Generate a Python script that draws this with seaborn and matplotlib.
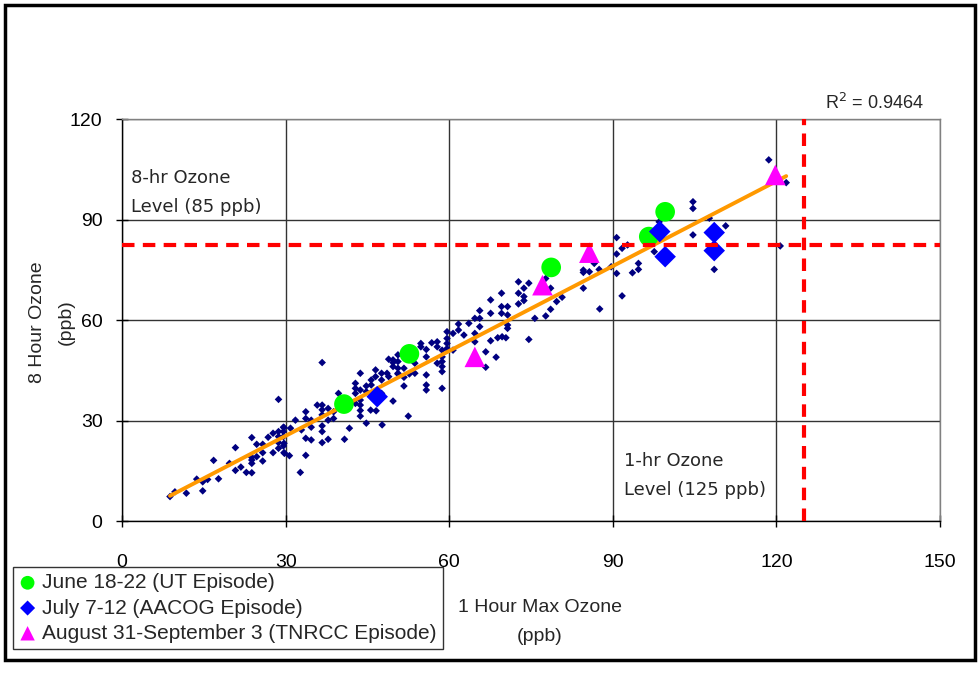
import numpy as np
import pandas as pd
import matplotlib
matplotlib.use("Agg")
import matplotlib.pyplot as plt
from matplotlib.patches import Rectangle
import seaborn as sns

# ---- data ----
dot_x = [8.8, 9.7, 11.8, 13.7, 14.8, 14.8, 15.7, 16.8, 17.7, 19.7, 20.8, 20.8, 21.8, 22.8,
         23.8, 23.8, 23.8, 23.8, 23.8, 24.7, 24.7, 25.8, 25.8, 25.8, 26.8, 27.7, 27.7, 28.7,
         28.7, 28.7, 29.7, 29.7, 29.7, 28.7, 36.7, 29.6, 29.6, 30.9, 29.6, 28.7, 29.6, 31.8,
         32.9, 33.7, 33.7, 33.7, 34.7, 34.7, 34.7, 35.8, 36.7, 36.7, 36.7, 36.7, 36.7, 36.7,
         37.8, 37.8, 37.8, 38.8, 38.8, 39.7, 39.7, 40.8, 41.7, 42.8, 42.8, 42.8, 42.8, 43.7,
         43.7, 43.7, 43.7, 43.7, 43.7, 44.8, 44.8, 44.8, 45.6, 45.7, 45.7, 46.5, 46.5, 46.6,
         47.6, 47.6, 47.6, 47.7, 48.6, 49.7, 49.7, 49.7, 50.6, 32.7, 33.7, 30.7, 29.8, 52.5,
         48.9, 48.9, 49.7, 50.6, 50.6, 50.6, 50.6, 51.7, 51.7, 51.7, 52.7, 53.7, 53.7, 54.8,
         54.8, 55.8, 55.8, 55.8, 55.8, 55.8, 56.8, 57.8, 57.8, 57.8, 58.7, 58.7, 58.7, 58.7,
         58.7, 58.7, 59.6, 59.6, 59.6, 59.6, 60.7, 60.7, 61.7, 61.7, 62.7, 63.6, 64.7, 64.7,
         64.7, 65.6, 65.6, 65.6, 66.7, 66.7, 67.6, 67.6, 67.6, 68.6, 68.9, 69.6, 69.6, 69.6,
         70.7, 70.7, 70.4, 70.7, 70.7, 69.7, 72.7, 72.7, 72.7, 73.7, 73.7, 73.7, 74.6, 74.6,
         75.7, 77.7, 77.7, 78.6, 78.6, 79.7, 80.7, 84.6, 84.6, 84.6, 85.7, 86.6, 87.5, 87.6,
         89.7, 90.7, 90.7, 91.7, 92.7, 90.7, 93.6, 94.7, 94.7, 91.7, 97.6, 98.5, 104.7, 104.7,
         104.7, 107.7, 110.7, 108.6, 118.6, 121.8, 120.7]
dot_y = [7.3, 8.7, 8.3, 12.5, 11.7, 9.0, 12.4, 18.1, 12.6, 17.2, 21.9, 15.1, 16.1, 14.5,
         14.4, 17.2, 18.2, 19.0, 24.9, 22.9, 19.2, 20.4, 17.9, 22.9, 25.0, 26.2, 20.4, 26.7,
         23.4, 21.7, 27.9, 23.2, 20.4, 36.3, 47.3, 28.0, 26.7, 27.7, 25.2, 25.2, 22.4, 30.1,
         27.2, 32.6, 30.6, 24.7, 30.1, 28.0, 24.2, 34.6, 34.6, 33.2, 31.7, 28.4, 26.7, 23.4,
         30.1, 24.4, 33.6, 32.6, 30.6, 34.3, 38.1, 24.4, 27.7, 41.1, 39.6, 38.1, 35.1, 44.1,
         39.1, 36.1, 34.6, 33.0, 31.3, 40.3, 38.6, 29.2, 33.1, 42.1, 40.6, 45.1, 43.1, 32.9,
         44.1, 42.1, 38.1, 28.7, 44.1, 35.8, 48.1, 47.3, 43.9, 14.5, 19.6, 19.5, 20.2, 31.3,
         48.3, 43.1, 46.1, 49.6, 47.6, 45.6, 44.1, 45.6, 42.9, 40.3, 43.9, 44.1, 47.1, 53.0,
         52.0, 51.2, 49.0, 43.6, 40.6, 39.1, 53.2, 53.5, 52.0, 47.1, 51.0, 49.0, 47.6, 46.1,
         44.6, 39.6, 56.5, 54.5, 53.0, 51.5, 56.0, 51.0, 58.8, 57.0, 55.5, 59.0, 60.5, 56.0,
         53.5, 62.8, 60.5, 58.0, 45.9, 50.5, 66.0, 62.0, 53.8, 48.9, 54.7, 68.0, 64.0, 62.0,
         64.0, 57.5, 54.7, 61.5, 58.5, 55.0, 71.4, 68.0, 64.8, 69.5, 67.0, 65.8, 71.0, 54.2,
         60.5, 72.4, 61.2, 69.5, 63.2, 65.5, 66.8, 74.9, 74.2, 69.5, 74.4, 76.9, 75.1, 63.3,
         75.9, 84.6, 79.7, 81.4, 82.4, 73.9, 74.1, 76.9, 75.1, 67.2, 80.4, 89.3, 95.3, 93.3,
         85.4, 90.4, 88.1, 75.1, 107.8, 101.0, 82.1]

june_x = [40.7, 52.7, 78.7, 96.6, 99.6]
june_y = [34.9, 49.9, 75.7, 84.9, 92.3]
july_x = [46.8, 98.6, 99.6, 108.6, 108.6]
july_y = [37.1, 86.4, 78.9, 86.1, 80.7]
aug_x = [64.7, 77.1, 85.7, 119.8]
aug_y = [49.0, 70.4, 80.1, 103.3]

episode_labels = ["June 18-22 (UT Episode)",
                  "July 7-12 (AACOG Episode)",
                  "August 31-September 3 (TNRCC Episode)"]
level_8hr = 82.5
level_1hr = 125
r2_text = "R$^2$ = 0.9464"
x_ticks = [0, 30, 60, 90, 120, 150]
y_ticks = [0, 30, 60, 90, 120]

# ---- figure ----
sns.set_style("white")
FONT = ["Liberation Sans", "DejaVu Sans"]
plt.rcParams["font.family"] = FONT
plt.rcParams["mathtext.fontset"] = "dejavusans"

W, H = 979, 675
fig = plt.figure(figsize=(W / 100, H / 100), dpi=100)
ax = fig.add_axes([122 / W, 1 - 521 / H, (940 - 122) / W, (521 - 119) / H])

dots = pd.DataFrame({"x": dot_x, "y": dot_y})
sns.scatterplot(data=dots, x="x", y="y", ax=ax, marker="D", s=15,
                color="#000080", edgecolor="none", linewidth=0, zorder=3)
sns.regplot(data=dots, x="x", y="y", ax=ax, scatter=False, ci=None, truncate=True,
            line_kws=dict(color="#FF9900", lw=2.8, zorder=4))

sns.scatterplot(x=june_x, y=june_y, ax=ax, marker="o", s=200, color="#00FF00",
                edgecolor="none", linewidth=0, label=episode_labels[0], zorder=5)
sns.scatterplot(x=july_x, y=july_y, ax=ax, marker="D", s=120, color="#0000FF",
                edgecolor="none", linewidth=0, label=episode_labels[1], zorder=5)
sns.scatterplot(x=aug_x, y=aug_y, ax=ax, marker="^", s=220, color="#FF00FF",
                edgecolor="none", linewidth=0, label=episode_labels[2], zorder=5)

ax.axhline(level_8hr, color="red", lw=3, dashes=(3, 2), zorder=6)
ax.axvline(level_1hr, color="red", lw=3, dashes=(3, 2), zorder=6)

ax.set_xlim(0, 150)
ax.set_ylim(0, 120)
ax.set_xticks(x_ticks)
ax.set_yticks(y_ticks)
ax.grid(True, color="#333333", lw=1)
ax.set_axisbelow(True)
for side in ["top", "right"]:
    ax.spines[side].set_color("#808080")
for side in ["left", "bottom"]:
    ax.spines[side].set_color("black")
for sp in ax.spines.values():
    sp.set_linewidth(1)
    sp.set_visible(True)
ax.tick_params(axis="x", direction="inout", length=8, width=1, pad=20, labelsize=14,
               bottom=True, colors="black")
ax.tick_params(axis="y", direction="inout", length=8, width=1, pad=10, labelsize=14,
               left=True, colors="black")
ax.set_xlabel("")
ax.set_ylabel("")

fig.text(540 / W, 1 - 622 / H, "1 Hour Max Ozone\n(ppb)", fontsize=14,
         ha="center", va="center", linespacing=1.9)
fig.text(52 / W, 1 - 322 / H, "8 Hour Ozone\n(ppb)", fontsize=14, rotation=90,
         ha="center", va="center", linespacing=1.9, multialignment="center")

ax.text(1.7, 98, "8-hr Ozone\nLevel (85 ppb)", fontsize=13, family=["DejaVu Sans"],
        va="center", ha="left", linespacing=1.8)
ax.text(92.1, 13.6, "1-hr Ozone\nLevel (125 ppb)", fontsize=13, family=["DejaVu Sans"],
        va="center", ha="left", linespacing=1.8)
ax.text(129, 124.8, r2_text, fontsize=13, va="center", ha="left", clip_on=False)

leg = ax.legend(loc="upper left", bbox_to_anchor=(13 / W, 1 - 567 / H),
                bbox_transform=fig.transFigure, fontsize=15, frameon=True,
                fancybox=False, edgecolor="black", markerscale=0.7,
                handlelength=0.8, handletextpad=0.3, borderpad=0.3,
                labelspacing=0.3, borderaxespad=0)
leg.get_frame().set_linewidth(1)

fig.patches.append(Rectangle((5 / W, 1 - 660 / H), 970 / W, 655 / H,
                             transform=fig.transFigure, fill=False, lw=2.5,
                             edgecolor="black", zorder=10))

fig.savefig("out.png", dpi=100)
